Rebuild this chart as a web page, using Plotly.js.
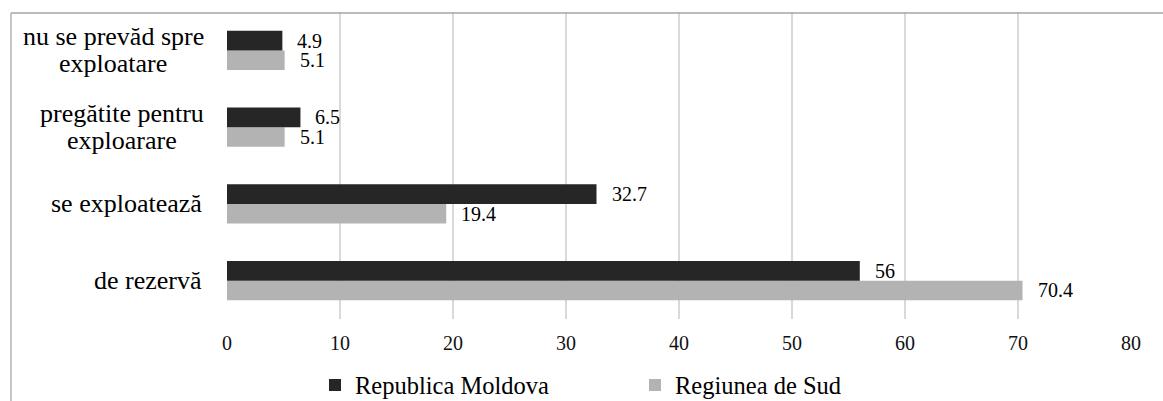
<!DOCTYPE html>
<html>
<head>
<meta charset="utf-8">
<script src="https://cdn.plot.ly/plotly-3.0.1.min.js"></script>
<style>
html,body{margin:0;padding:0;background:#fff;}
#chart{width:1163px;height:401px;}
#fontprobe{position:absolute;left:0;top:0;font-family:'Liberation Serif';font-size:26px;color:#fff;z-index:-1;}
</style>
</head>
<body>
<div id="fontprobe">de rezervă 0123456789</div>
<div id="chart"></div>
<script>
// ---- data ----
const categories = ["de rezervă", "se exploatează", "pregătite pentru<br>exploarare", "nu se prevăd spre<br>exploatare"];
const seriesNames = ["Republica Moldova", "Regiunea de Sud"];
const rmValues = [56, 32.7, 6.5, 4.9];
const rsValues = [70.4, 19.4, 5.1, 5.1];
const xTickVals = [0, 10, 20, 30, 40, 50, 60, 70, 80];
const xTickText = ["0", "10", "20", "30", "40", "50", "60", "70", "80"];

// ---- style ----
const FONT = 'Liberation Serif';
const W = 1163, H = 401;
const M = {l: 227, r: 32, t: 12, b: 82, autoexpand: false};
const plotW = W - M.l - M.r, plotH = H - M.t - M.b;
const DARK = '#262626', GRAY = '#b3b3b3';
const catFontSize = 26, labelFontSize = 20;

const pxToPaperX = px => (px - M.l) / plotW;
const pxToPaperY = py => (H - M.b - py) / plotH;
const labelRight = 204;

function draw() {
  const ctx = document.createElement('canvas').getContext('2d');
  ctx.font = catFontSize + 'px "Liberation Serif"';

  const annotations = [];
  categories.forEach((cat) => {
    const lines = cat.split('<br>');
    if (lines.length === 1) {
      annotations.push({xref: 'paper', yref: 'y', x: pxToPaperX(labelRight), y: cat,
        xanchor: 'right', yanchor: 'middle', text: lines[0], showarrow: false,
        font: {family: FONT, size: catFontSize, color: '#000'}});
    } else {
      const wmax = Math.max(...lines.map(l => ctx.measureText(l).width));
      const cx = labelRight - wmax / 2;
      const step = 27;
      lines.forEach((ln, j) => {
        const shift = ((lines.length - 1) / 2 - j) * step;
        annotations.push({xref: 'paper', yref: 'y', x: pxToPaperX(cx), y: cat, yshift: shift,
          xanchor: 'center', yanchor: 'middle', text: ln, showarrow: false,
          font: {family: FONT, size: catFontSize, color: '#000'}});
      });
    }
  });

  const barOffsetPx = plotH / categories.length * 0.51 / 4;
  function addLabels(vals, dy) {
    vals.forEach((v, i) => {
      annotations.push({xref: 'x', yref: 'y', x: v, y: categories[i], xanchor: 'left', yanchor: 'middle',
        xshift: 14, yshift: dy, text: String(v), showarrow: false, borderpad: 0,
        font: {family: FONT, size: labelFontSize, color: '#000'}});
    });
  }
  addLabels(rmValues, barOffsetPx);
  addLabels(rsValues, -barOffsetPx);

  const traces = [
    {type: 'bar', orientation: 'h', name: seriesNames[1], x: rsValues, y: categories,
     marker: {color: GRAY}, legend: 'legend2', hoverinfo: 'x'},
    {type: 'bar', orientation: 'h', name: seriesNames[0], x: rmValues, y: categories,
     marker: {color: DARK}, legend: 'legend', hoverinfo: 'x'}
  ];

  const layout = {
    width: W, height: H,
    margin: M,
    paper_bgcolor: '#fff', plot_bgcolor: '#fff',
    barmode: 'group', bargap: 0.49, bargroupgap: 0,
    font: {family: FONT, color: '#000'},
    xaxis: {range: [0, 80], tickvals: xTickVals, ticktext: xTickText, showgrid: true,
      gridcolor: '#d9d9d9', gridwidth: 1.5, zeroline: false, showline: false, ticks: '',
      ticklabelstandoff: 10, automargin: false,
      tickfont: {family: FONT, size: 20, color: '#111'}, fixedrange: true},
    yaxis: {type: 'category', categoryarray: categories, showticklabels: false, showgrid: false,
      zeroline: false, showline: false, ticks: '', fixedrange: true, automargin: false},
    showlegend: true,
    legend: {orientation: 'h', x: pxToPaperX(315), xanchor: 'left', y: pxToPaperY(385), yanchor: 'middle',
      font: {family: FONT, size: 24.5, color: '#000'}, bgcolor: 'rgba(0,0,0,0)'},
    legend2: {orientation: 'h', x: pxToPaperX(635), xanchor: 'left', y: pxToPaperY(385), yanchor: 'middle',
      font: {family: FONT, size: 24.5, color: '#000'}, bgcolor: 'rgba(0,0,0,0)'},
    annotations: annotations,
    shapes: [
      {type: 'line', xref: 'paper', yref: 'paper', x0: pxToPaperX(11), x1: pxToPaperX(1200),
       y0: pxToPaperY(13), y1: pxToPaperY(13), line: {color: '#a6a6a6', width: 1.3}},
      {type: 'line', xref: 'paper', yref: 'paper', x0: pxToPaperX(11), x1: pxToPaperX(11),
       y0: pxToPaperY(13), y1: pxToPaperY(420), line: {color: '#a6a6a6', width: 1.3}}
    ]
  };

  Plotly.newPlot('chart', traces, layout, {displayModeBar: false});
}

const fontReady = (document.fonts && document.fonts.load)
  ? document.fonts.load('26px "Liberation Serif"').then(() => document.fonts.ready)
  : Promise.resolve();
fontReady.then(draw, draw);
</script>
</body>
</html>
